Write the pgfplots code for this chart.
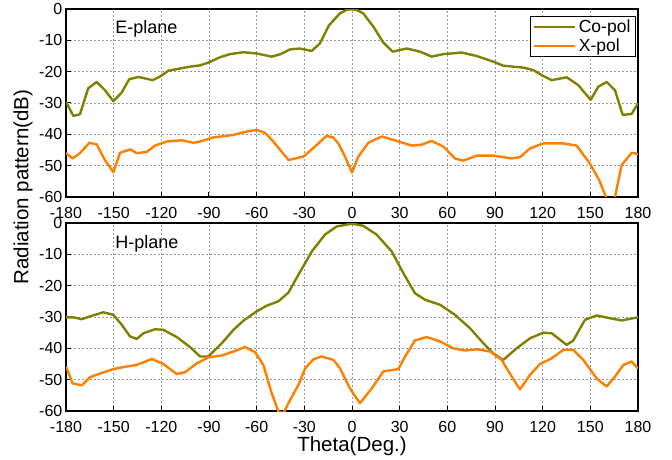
\documentclass[border=0pt]{standalone}
\usepackage{fontspec}
\setmainfont{Liberation Sans}
\usepackage{pgfplots}
\pgfplotsset{compat=1.18}
\definecolor{copol}{RGB}{128,128,0}
\definecolor{xpol}{RGB}{255,128,0}
\begin{document}
\begin{tikzpicture}
\useasboundingbox (-66bp,-49bp) rectangle (606bp,411bp);
\pgfplotsset{
  panel/.style={
    width=572bp, height=188bp, scale only axis,
    xmin=-180, xmax=180, ymin=-60, ymax=0,
    xtick={-180,-150,...,180}, ytick={-60,-50,...,0},
    tick pos=left, tick align=inside, major tick length=5bp,
    grid=major, major grid style={gray!80, line width=0.6bp, dash pattern=on 2bp off 2bp},
    axis line style={line width=1.2bp}, every tick/.style={black, line width=1bp},
    /pgf/number format/assume math mode=true,
    ticklabel style={font=\fontsize{16bp}{19bp}\selectfont, inner sep=0pt},
    xticklabel style={anchor=base, yshift=-21.5bp},
    yticklabel style={anchor=east, xshift=-3.5bp},
    label style={font=\fontsize{20.5bp}{24bp}\selectfont},
    anchor=south west,
  },
  every axis plot/.append style={line width=2.4bp, line join=round},
}
\begin{axis}[panel, at={(0,214bp)},
  legend style={at={(rel axis cs:0.9965,0.963)}, anchor=north east, draw=black, line width=0.8bp,
     font=\fontsize{17.5bp}{20bp}\selectfont, inner xsep=3bp, inner ysep=1.5bp,
     nodes={inner sep=2.2bp}},
  legend cell align=left,
  legend image code/.code={\draw[#1, line width=2.4bp] (0bp,0bp) -- (41bp,0bp);},
]
\addplot[copol] coordinates {
(-180,-29.6) (-175.4,-34.1) (-171.2,-33.6) (-166,-25.3) (-160.7,-23.3) (-155.5,-25.9) (-150.2,-29.4) (-145,-26.7) (-140.2,-22.4) (-134.5,-21.7) (-125.4,-22.7) (-121,-21.6) (-115.6,-19.7) (-110.4,-19.2) (-102,-18.4) (-95.7,-18.0) (-90.4,-17.1) (-83.1,-15.4) (-76.8,-14.4) (-68.4,-13.8) (-60,-14.2) (-50.5,-15.2) (-45.5,-14.5) (-39,-12.9) (-32.7,-12.6) (-25.4,-13.4) (-20.2,-11) (-14.5,-5.2) (-7.6,-1.4) (-3,-0.2) (0,-0.1) (3,-0.3) (7.1,-1.4) (13.4,-5.6) (19.7,-10.7) (25.6,-13.6) (34.4,-12.6) (42.8,-13.6) (50.1,-15.2) (57.5,-14.4) (69,-13.9) (78.5,-15) (88.9,-16.8) (95.2,-18.1) (107.8,-18.7) (114.1,-19.5) (120.4,-21.4) (125.7,-22.7) (135.1,-21.8) (142.4,-24.3) (150.2,-29) (155,-24.8) (160.3,-23.3) (165.5,-25.9) (170.4,-33.8) (176,-33.5) (180,-30.1)
};
\addlegendentry{Co-pol}
\addplot[xpol] coordinates {
(-180,-46) (-175.8,-47.7) (-171.2,-46) (-165.3,-42.7) (-160.7,-43.2) (-155.5,-48.2) (-150.2,-52.1) (-146,-45.9) (-139.7,-44.8) (-135.5,-46) (-129.2,-45.6) (-124,-43.6) (-116.6,-42.3) (-107.2,-41.9) (-99.9,-42.7) (-95.7,-42.3) (-87.3,-41) (-74.8,-40.2) (-66.3,-39.1) (-60,-38.6) (-54.7,-39.5) (-49.5,-42.3) (-40,-48.2) (-30.6,-47.1) (-23.3,-43.9) (-16,-40.5) (-11.8,-41) (-8.6,-42.9) (-4.4,-47.1) (0,-52.2) (4,-47.1) (10.3,-42.7) (18.7,-40.7) (28.2,-42.1) (37.6,-43.6) (43.9,-43.3) (50.1,-42.1) (57.5,-43.9) (64.8,-47.7) (70,-48.4) (78.5,-46.8) (88.9,-46.8) (100.5,-47.7) (105.7,-47.3) (112,-44.5) (120.4,-42.9) (133,-42.9) (141.4,-43.6) (149.7,-49.3) (155.6,-54.6) (159.8,-60) (162,-62) (164,-62) (165.5,-60) (169.7,-49.8) (176,-45.9) (180,-46.3)
};
\addlegendentry{X-pol}
\node[anchor=west, font=\fontsize{18bp}{21bp}\selectfont, inner sep=0pt] at (axis cs:-149,-6.4) {E-plane};
\end{axis}
\begin{axis}[panel, at={(0,0)},
  xlabel={Theta(Deg.)}, ylabel={Radiation pattern(dB)},
  xlabel style={at={(axis description cs:0.5,-0.2165)}, anchor=base, inner sep=0pt},
  ylabel style={at={(axis description cs:-0.0752,1.191)}, anchor=center, inner sep=0pt},
]
\addplot[copol] coordinates {
(-180,-30.1) (-175.3,-30.1) (-170.1,-30.7) (-164.9,-29.8) (-156.5,-28.5) (-150.2,-29.3) (-144.9,-32.5) (-139.7,-36.2) (-135.5,-37) (-131.3,-35.2) (-123.9,-33.9) (-118.7,-34.1) (-110.3,-36.4) (-101.9,-39.6) (-95.6,-42.6) (-90.4,-42.6) (-82,-38.4) (-74.6,-34.1) (-68.4,-31.2) (-60,-28.2) (-53.7,-26.4) (-46.3,-25) (-40,-22.2) (-33.7,-16.5) (-25.3,-9.1) (-17,-3.7) (-9.6,-1.1) (0,-0.2) (7.1,-0.9) (15.5,-3.7) (25,-9.1) (32.3,-16) (39.6,-22.4) (46,-24.5) (55.4,-26.1) (64.8,-29.3) (74.3,-33.6) (82.7,-38.4) (88.9,-41.6) (95.2,-43.7) (103.6,-40) (112,-36.8) (120.4,-35) (125.7,-35.2) (135.1,-38.9) (139.3,-37.5) (146.6,-30.9) (154,-29.5) (162.4,-30.4) (169.7,-31.1) (180,-30.1)
};
\addplot[xpol] coordinates {
(-180,-45.8) (-175.8,-51.2) (-170.1,-51.8) (-164.9,-49.2) (-156.5,-47.7) (-150.2,-46.6) (-141.8,-45.8) (-135.5,-45.3) (-126,-43.4) (-118.7,-45) (-110.3,-48.2) (-105,-47.6) (-97.7,-44.8) (-90.4,-42.9) (-82,-42.3) (-74.6,-41) (-67.3,-39.6) (-61,-41.2) (-55.8,-45.3) (-50.5,-54.4) (-46.3,-60.2) (-43.2,-60.7) (-39,-56.5) (-33.7,-51.7) (-29.5,-46.4) (-24.3,-43.5) (-19,-42.6) (-11.7,-43.7) (-7.5,-46.4) (-1.3,-52.8) (5,-57.5) (12.4,-52.8) (19.7,-47.4) (29.2,-46.6) (33.4,-42.6) (39.6,-37.5) (47,-36.4) (55.4,-37.8) (63.8,-40) (71.1,-40.7) (78.5,-40.3) (86.9,-41) (94.2,-43.7) (100.5,-49) (105.7,-53.1) (112,-48.5) (118.3,-45) (125.7,-43.2) (133,-40.5) (139.3,-40.5) (145.6,-43.7) (154,-49.6) (160.3,-52.2) (165.5,-49) (170.8,-45.3) (176,-44.2) (180,-46.4)
};
\node[anchor=west, font=\fontsize{18bp}{21bp}\selectfont, inner sep=0pt] at (axis cs:-149,-6.6) {H-plane};
\end{axis}
\end{tikzpicture}
\end{document}
